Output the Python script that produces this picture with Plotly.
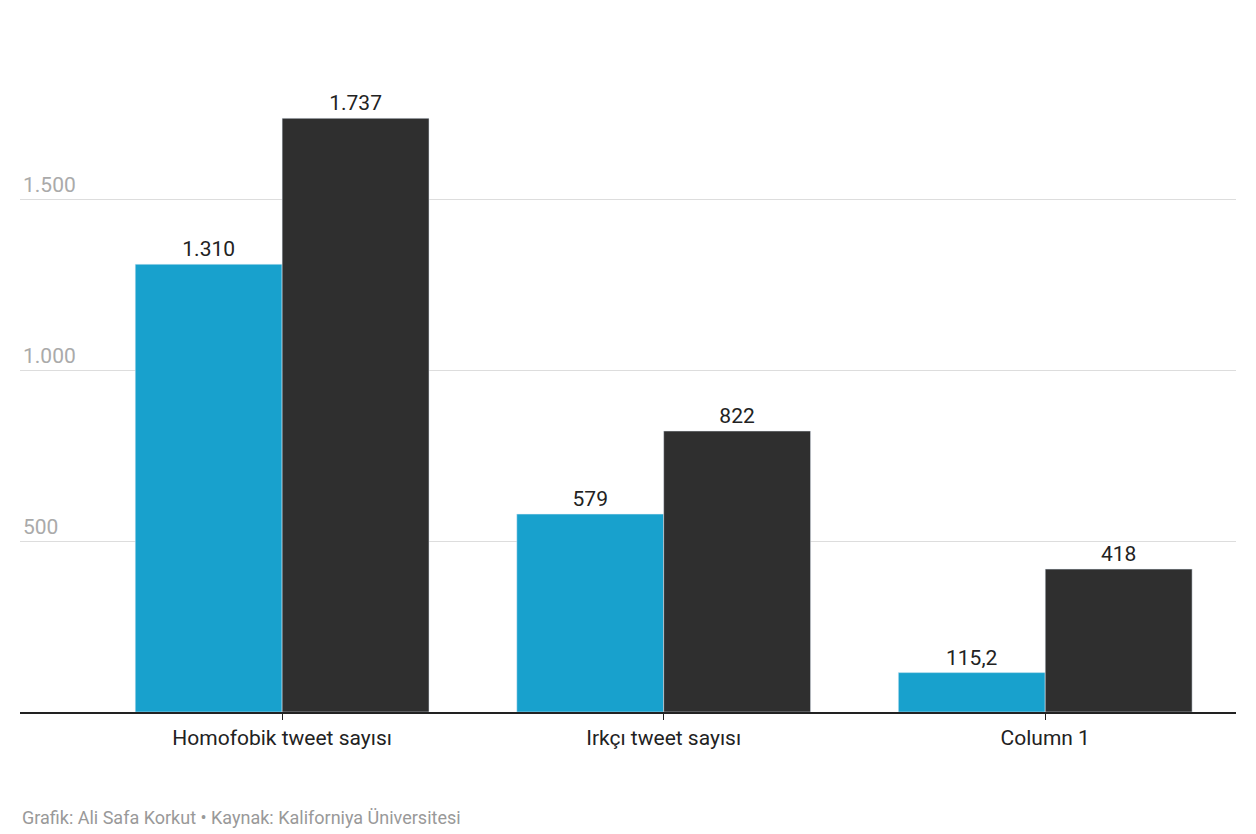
import plotly.graph_objects as go

categories = ["Homofobik tweet sayısı", "Irkçı tweet sayısı", "Column 1"]
before = [1310, 579, 115.2]
after = [1737, 822, 418]
before_txt = ["1.310", "579", "115,2"]
after_txt = ["1.737", "822", "418"]

fig = go.Figure()
fig.add_bar(x=categories, y=before, name="Musk'tan önce", marker_color="#18a1cd",
            text=before_txt, textposition="outside", cliponaxis=False,
            textfont=dict(size=21, color="#222"))
fig.add_bar(x=categories, y=after, name="Musk'tan sonra", marker_color="#2f2f2f",
            text=after_txt, textposition="outside", cliponaxis=False,
            textfont=dict(size=21, color="#222"))

fig.update_layout(
    width=1256, height=834, paper_bgcolor="white", plot_bgcolor="white",
    font=dict(family="Roboto", size=20, color="#222"),
    margin=dict(l=12, r=28, t=60, b=130),
    barmode="group", bargap=0.23, bargroupgap=0,
    separators=",.",
    legend=dict(orientation="h", x=0, y=1.015, xref="paper", yref="container",
                xanchor="left", yanchor="top", font=dict(size=21), itemwidth=30,
                traceorder="normal"),
    xaxis=dict(range=[-0.687, 2.5], showline=True, linecolor="#222", linewidth=2,
               ticks="outside", tickcolor="#222", ticklen=6, tickfont=dict(size=21)),
    yaxis=dict(range=[0, 1884], tickvals=[500, 1000, 1500], ticktext=["500", "1.000", "1.500"],
               gridcolor="#dddddd", ticklabelposition="inside top", zeroline=False,
               tickfont=dict(size=21, color="#aaaaaa")),
    annotations=[dict(text="Grafik: Ali Safa Korkut • Kaynak: Kaliforniya Üniversitesi",
                      xref="paper", yref="paper", x=0, y=-0.145, xanchor="left", yanchor="top",
                      showarrow=False, font=dict(size=18, color="#999"))],
)
fig.write_html("out.html")
